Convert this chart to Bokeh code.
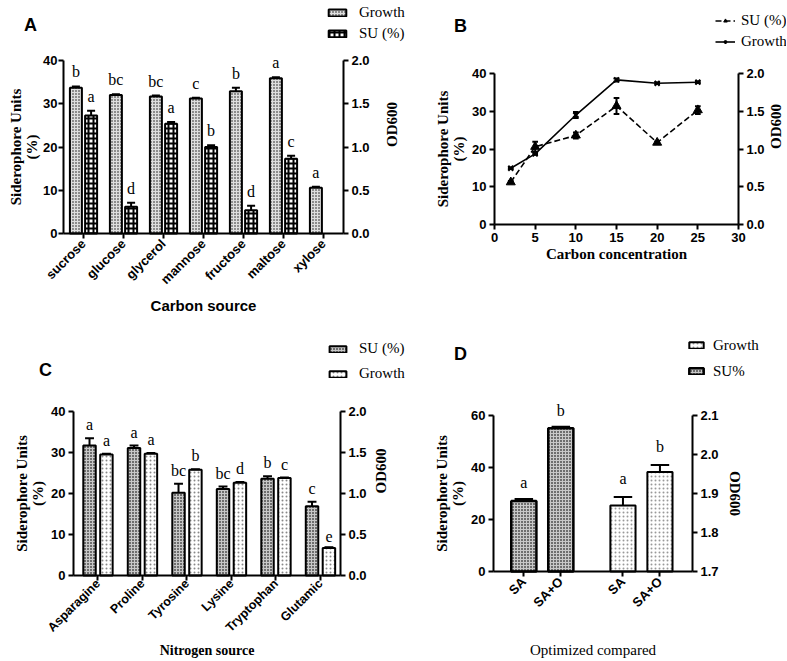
import math
from bokeh.plotting import figure
from bokeh.models import (Range1d, LinearAxis, FixedTicker, Legend, LegendItem,
                          ColumnDataSource, Label)
from bokeh.layouts import row, column
from bokeh.embed import file_html
from bokeh.resources import INLINE
from bokeh.core.properties import value

# ---------------- data ----------------
# Panel A (carbon source)
carbon_sources = ["sucrose", "glucose", "glycerol", "mannose", "fructose", "maltose", "xylose"]
a_growth_od = [1.685, 1.60, 1.585, 1.56, 1.645, 1.795, 0.53]
a_growth_err = [0.015, 0.01, 0.01, 0.01, 0.04, 0.01, 0.01]
a_growth_letters = ["b", "bc", "bc", "c", "b", "a", "a"]
a_su = [27.3, 6.2, 25.4, 20.0, 5.4, 17.3]
a_su_err = [1.1, 0.9, 0.4, 0.4, 1.0, 0.7]
a_su_letters = ["a", "d", "a", "b", "d", "c"]

# Panel B (carbon concentration)
b_conc = [2, 5, 10, 15, 20, 25]
b_su = [11.2, 20.6, 23.6, 31.4, 21.7, 30.3]
b_su_err = [0.3, 1.3, 0.8, 2.1, 0.3, 1.0]
b_growth_od = [0.745, 0.935, 1.45, 1.915, 1.87, 1.885]
b_growth_err = [0.01, 0.01, 0.04, 0.02, 0.01, 0.01]

# Panel C (nitrogen source)
nitrogen_sources = ["Asparagine", "Proline", "Tyrosine", "Lysine", "Tryptophan", "Glutamic"]
c_su = [31.7, 31.1, 20.2, 21.1, 23.6, 16.9]
c_su_err = [1.8, 0.6, 2.2, 0.6, 0.6, 1.1]
c_su_letters = ["a", "a", "bc", "bc", "b", "c"]
c_growth_od = [1.475, 1.485, 1.29, 1.13, 1.19, 0.335]
c_growth_err = [0.01, 0.01, 0.005, 0.01, 0.005, 0.01]
c_growth_letters = ["a", "a", "b", "d", "c", "e"]

# Panel D (optimized compared)
d_labels = ["SA", "SA+O"]
d_su = [27.1, 55.1]
d_su_err = [0.8, 0.6]
d_su_letters = ["a", "b"]
d_growth_od = [1.869, 1.955]
d_growth_err = [0.022, 0.018]
d_growth_letters = ["a", "b"]

SANS = "Liberation Sans"
SERIF = "Liberation Serif"


def xrange_for(d0, d1, p0, p1, total):
    k = (d1 - d0) / (p1 - p0)
    return Range1d(d0 - p0 * k, d1 + (total - p1) * k)


def yrange_for(d0, d1, ptop, pbot, total):
    k = (d1 - d0) / (pbot - ptop)
    return Range1d(d0 - (total - pbot) * k, d1 + ptop * k)


class Panel:
    def __init__(self, W, H, box, xdom, ydom, oddom):
        l, t, r, b = box
        self.W, self.H = W, H
        self.xr = xrange_for(xdom[0], xdom[1], l, r, W)
        self.yr = yrange_for(ydom[0], ydom[1], t, b, H)
        od = yrange_for(oddom[0], oddom[1], t, b, H)
        p = figure(width=W, height=H, x_range=self.xr, y_range=self.yr,
                   output_backend="svg", toolbar_location=None, title=None,
                   min_border_left=0, min_border_right=0, min_border_top=0,
                   min_border_bottom=0)
        p.extra_y_ranges = {"od": od}
        p.xgrid.visible = False
        p.ygrid.visible = False
        p.outline_line_color = None
        ax = LinearAxis(y_range_name="od")
        p.add_layout(ax, "right")
        p.yaxis[0].fixed_location = xdom[0]
        p.yaxis[0].bounds = ydom
        p.xaxis[0].fixed_location = ydom[0]
        p.xaxis[0].bounds = xdom
        ax.fixed_location = xdom[1]
        ax.bounds = oddom
        for a in p.axis:
            a.axis_line_width = 2
            a.axis_line_color = "black"
            a.major_tick_line_width = 2
            a.major_tick_out = 5
            a.major_tick_in = 0
            a.minor_tick_line_color = None
            a.major_label_text_font = SANS
            a.major_label_text_font_style = "bold"
            a.major_label_text_font_size = "13px"
            a.major_label_text_color = "black"
            a.major_label_standoff = 3
            a.axis_label_text_font = SERIF
            a.axis_label_text_font_style = "bold"
            a.axis_label_text_font_size = "15px"
            a.axis_label_text_color = "black"
            a.axis_label_text_line_height = 1.0
        p.yaxis[0].axis_label = "Siderophore Units\n(%)"
        p.yaxis[0].axis_label_standoff = 2
        ax.axis_label = "OD600"
        self.p, self.ax = p, ax

    def dx(self, px):
        return self.xr.start + px / self.W * (self.xr.end - self.xr.start)

    def dy(self, py):
        return self.yr.end - py / self.H * (self.yr.end - self.yr.start)

    def letter(self, txt, px, py):
        self.p.add_layout(Label(x=self.dx(px), y=self.dy(py), text=txt, text_font=SANS,
                                text_font_style="bold", text_font_size="18px",
                                text_align="center", text_baseline="middle",
                                text_color="black"))


def err_up(p, xs, tops, errs, cap, rng="default"):
    src = ColumnDataSource(dict(x=xs, y0=tops, y1=[t + e for t, e in zip(tops, errs)],
                                xl=[x - cap for x in xs], xr=[x + cap for x in xs]))
    p.segment("x", "y0", "x", "y1", source=src, line_color="black", line_width=2, y_range_name=rng)
    p.segment("xl", "y1", "xr", "y1", source=src, line_color="black", line_width=2, y_range_name=rng)


def letters(p, xs, ys, txt, rng="default", off=-6):
    p.text(x=xs, y=ys, text=txt, text_align="center", text_baseline="bottom",
           text_font=value(SERIF), text_font_size="16px", text_color="black",
           y_offset=off, y_range_name=rng)


def add_legend(p, items, loc, gw, gh, lh, sp, standoff):
    leg = Legend(items=[LegendItem(label=l, renderers=r) for l, r in items], location=loc)
    leg.padding = 0
    leg.margin = 0
    leg.spacing = sp
    leg.glyph_width = gw
    leg.glyph_height = gh
    leg.label_height = lh
    leg.label_standoff = standoff
    leg.border_line_color = None
    leg.background_fill_alpha = 0
    leg.label_text_font = SERIF
    leg.label_text_font_size = "15px"
    leg.label_text_color = "black"
    p.add_layout(leg, "center")


def od_ticks(ax, ticks):
    ax.ticker = FixedTicker(ticks=ticks)
    ax.major_label_overrides = {t: "%.1f" % t for t in ticks}


# ---------------- Panel A ----------------
na = len(carbon_sources)
A = Panel(413, 338, (63, 60, 343, 233), (-0.5, na - 0.5), (0, 40), (0, 2))
pa = A.p
ga_x = [i - 0.19 for i in range(na)]
sa_x = [i + 0.19 for i in range(len(a_su))]
rg = pa.vbar(x=ga_x, top=a_growth_od, width=0.3, bottom=0, y_range_name="od",
             fill_color="#8c8c8c", line_color="black", line_width=2,
             hatch_pattern="cross", hatch_color="#dedede", hatch_scale=3, hatch_weight=1)
rs = pa.vbar(x=sa_x, top=a_su, width=0.3, bottom=0,
             fill_color="white", line_color="black", line_width=2,
             hatch_pattern="cross", hatch_color="black", hatch_scale=5, hatch_weight=2)
err_up(pa, ga_x, a_growth_od, a_growth_err, 0.1, "od")
err_up(pa, sa_x, a_su, a_su_err, 0.1)
letters(pa, ga_x, [t + e for t, e in zip(a_growth_od, a_growth_err)], a_growth_letters, "od")
letters(pa, sa_x, [t + e for t, e in zip(a_su, a_su_err)], a_su_letters)
pa.xaxis.ticker = FixedTicker(ticks=list(range(na)))
pa.xaxis.major_label_overrides = {i: s for i, s in enumerate(carbon_sources)}
pa.xaxis.major_label_orientation = math.pi / 4
pa.xaxis.axis_label = "Carbon source"
pa.xaxis.axis_label_text_font = SANS
pa.xaxis.axis_label_standoff = 2
pa.yaxis[0].ticker = FixedTicker(ticks=[0, 10, 20, 30, 40])
pa.yaxis[0].major_label_standoff = 1
pa.yaxis[0].axis_label_standoff = 0
od_ticks(A.ax, [0, 0.5, 1.0, 1.5, 2.0])
A.ax.axis_label_orientation = math.pi / 2
A.ax.axis_label_standoff = 19
add_legend(pa, [("Growth", [rg]), ("SU (%)", [rs])], (326, 295), 22, 9, 19, 2, 11)
A.letter("A", 30, 24)

# ---------------- Panel B ----------------
B = Panel(373, 338, (81, 73, 325, 224), (0, 30), (0, 40), (0, 2))
pb = B.p
src_su = ColumnDataSource(dict(x=b_conc, y=b_su))
src_g = ColumnDataSource(dict(x=b_conc, y=b_growth_od))
l_su = pb.line("x", "y", source=src_su, line_color="black", line_width=1.6, line_dash="6 3")
m_su = pb.scatter("x", "y", source=src_su, marker="triangle", size=9, fill_color="black",
                  line_color="black")
l_g = pb.line("x", "y", source=src_g, line_color="black", line_width=1.6, y_range_name="od")
m_g = pb.scatter("x", "y", source=src_g, marker="x", size=7, line_color="black",
                 line_width=2, y_range_name="od")
for xs, ys, es, rng in [(b_conc, b_su, b_su_err, "default"), (b_conc, b_growth_od, b_growth_err, "od")]:
    s = ColumnDataSource(dict(x=xs, lo=[y - e for y, e in zip(ys, es)], hi=[y + e for y, e in zip(ys, es)],
                              xl=[x - 0.35 for x in xs], xr=[x + 0.35 for x in xs]))
    pb.segment("x", "lo", "x", "hi", source=s, line_color="black", line_width=2, y_range_name=rng)
    pb.segment("xl", "hi", "xr", "hi", source=s, line_color="black", line_width=2, y_range_name=rng)
    pb.segment("xl", "lo", "xr", "lo", source=s, line_color="black", line_width=2, y_range_name=rng)
pb.xaxis.ticker = FixedTicker(ticks=[0, 5, 10, 15, 20, 25, 30])
pb.xaxis.axis_label = "Carbon concentration"
pb.xaxis.axis_label_standoff = 1
pb.yaxis[0].ticker = FixedTicker(ticks=[0, 10, 20, 30, 40])
od_ticks(B.ax, [0, 0.5, 1.0, 1.5, 2.0])
B.ax.axis_label_orientation = math.pi / 2
B.ax.axis_label_standoff = 8
add_legend(pb, [("SU (%)", [l_su, m_su]), ("Growth", [l_g, m_g])], (302, 287), 20, 9, 19, 2, 6)
B.letter("B", 47, 25)

# ---------------- Panel C ----------------
nc = len(nitrogen_sources)
C = Panel(413, 322, (73, 73, 340, 237), (-0.55, nc - 0.55), (0, 40), (0, 2))
pc = C.p
cs_x = [i - 0.19 for i in range(nc)]
cg_x = [i + 0.19 for i in range(nc)]
rcs = pc.vbar(x=cs_x, top=c_su, width=0.28, bottom=0,
              fill_color="#6e6e6e", line_color="black", line_width=2,
              hatch_pattern="cross", hatch_color="#c8c8c8", hatch_scale=3, hatch_weight=1)
rcg = pc.vbar(x=cg_x, top=c_growth_od, width=0.28, bottom=0, y_range_name="od",
              fill_color="white", line_color="black", line_width=2,
              hatch_pattern="dot", hatch_color="#888888", hatch_scale=4, hatch_weight=1)
err_up(pc, cs_x, c_su, c_su_err, 0.1)
err_up(pc, cg_x, c_growth_od, c_growth_err, 0.1, "od")
letters(pc, cs_x, [t + e for t, e in zip(c_su, c_su_err)], c_su_letters, off=-5)
letters(pc, cg_x, [t + e for t, e in zip(c_growth_od, c_growth_err)], c_growth_letters, "od", -5)
pc.xaxis.ticker = FixedTicker(ticks=list(range(nc)))
pc.xaxis.major_label_overrides = {i: s for i, s in enumerate(nitrogen_sources)}
pc.xaxis.major_label_orientation = math.pi / 4
pc.xaxis.major_label_text_font_size = "12.5px"
pc.xaxis.major_label_standoff = 1
pc.xaxis.axis_label = "Nitrogen source"
pc.xaxis.axis_label_text_font_size = "14px"
pc.xaxis.axis_label_standoff = 0
pc.yaxis[0].ticker = FixedTicker(ticks=[0, 10, 20, 30, 40])
od_ticks(C.ax, [0, 0.5, 1.0, 1.5, 2.0])
C.ax.axis_label_orientation = math.pi / 2
C.ax.axis_label_standoff = 11
add_legend(pc, [("SU (%)", [rcs]), ("Growth", [rcg])], (327, 276), 21, 8, 21, 4, 11)
C.letter("C", 45, 31)

# ---------------- Panel D ----------------
D = Panel(373, 322, (80, 77, 279, 233), (0, 5.38), (0, 60), (1.7, 2.1))
pd_ = D.p
ds_x = [0.82 + i for i in range(len(d_labels))]
dg_x = [0.82 + 2.68 + i for i in range(len(d_labels))]
rds = pd_.vbar(x=ds_x, top=d_su, width=0.68, bottom=0,
               fill_color="#6e6e6e", line_color="black", line_width=2.5,
               hatch_pattern="cross", hatch_color="#c8c8c8", hatch_scale=3, hatch_weight=1)
rdg = pd_.vbar(x=dg_x, top=d_growth_od, width=0.68, bottom=1.7, y_range_name="od",
               fill_color="white", line_color="black", line_width=2,
               hatch_pattern="dot", hatch_color="#999999", hatch_scale=4, hatch_weight=1)
err_up(pd_, ds_x, d_su, d_su_err, 0.25)
err_up(pd_, dg_x, d_growth_od, d_growth_err, 0.25, "od")
letters(pd_, ds_x, [t + e for t, e in zip(d_su, d_su_err)], d_su_letters, off=-8)
letters(pd_, dg_x, [t + e for t, e in zip(d_growth_od, d_growth_err)], d_growth_letters, "od", -10)
pd_.xaxis.ticker = FixedTicker(ticks=ds_x + dg_x)
pd_.xaxis.major_label_overrides = {x: l for x, l in zip(ds_x + dg_x, d_labels + d_labels)}
pd_.xaxis.major_label_orientation = math.pi / 4
pd_.xaxis.axis_label = "Optimized compared"
pd_.xaxis.axis_label_text_font_style = "normal"
pd_.xaxis.axis_label_standoff = 24
pd_.yaxis[0].ticker = FixedTicker(ticks=[0, 20, 40, 60])
od_ticks(D.ax, [1.7, 1.8, 1.9, 2.0, 2.1])
D.ax.axis_label_standoff = 5
add_legend(pd_, [("Growth", [rdg]), ("SU%", [rds])], (274, 278), 18, 8, 22, 4, 8)
D.letter("D", 47, 15)

layout = column(row(pa, pb), row(pc, pd_))
open("out.html", "w").write(file_html(layout, INLINE))
